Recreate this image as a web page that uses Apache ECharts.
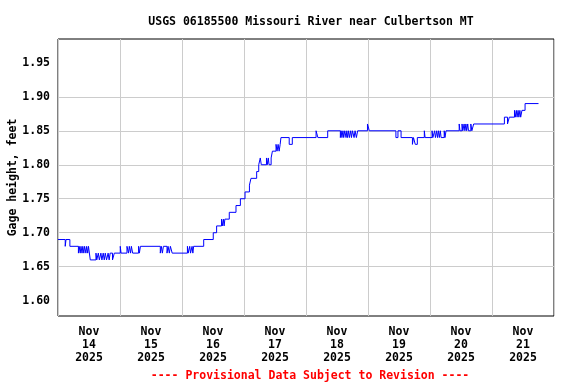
<!DOCTYPE html>
<html>
<head>
<meta charset="utf-8">
<script src="https://cdn.jsdelivr.net/npm/echarts@6/dist/echarts.min.js"></script>
<style>html,body{margin:0;padding:0;background:#fff}#c{width:576px;height:384px}</style>
</head>
<body>
<div id="c"></div>
<script>
// Hours since Nov 14 2025 00:00 at which the gage value changes, and the value from then on
const changeHours = [
  0, 2.8, 3.1, 4.6, 7.9, 8.2, 8.6, 8.9, 9.3, 9.6, 10.0, 10.3, 10.8, 11.1, 11.5, 11.8,
  12.5, 14.7, 15.0, 15.6, 16.0, 16.6, 17.0, 17.5, 17.9, 18.3, 18.8, 19.4, 19.8, 20.2, 21.1, 21.8,
  24.1, 24.4, 26.7, 27.3, 27.6, 28.1, 28.4, 28.9, 31.2, 31.5, 31.9,
  39.6, 40.0, 40.4, 40.8, 42.2, 42.6, 43.1, 43.5, 44.2,
  50.1, 50.4, 51.0, 51.3, 51.9, 52.2, 52.5,
  56.4, 60.1, 61.4, 63.3, 63.6, 64.0, 64.3, 64.6, 66.3, 68.9, 70.6, 72.4, 74.1, 74.7, 76.9,
  77.7, 78.3, 78.7, 80.7, 81.0, 81.4, 81.7, 82.5, 83.0, 84.4, 84.8, 85.2, 85.6, 86.0, 86.3,
  89.5, 90.7, 99.9, 100.6, 104.4,
  109.3, 109.6, 109.9, 110.3, 110.6, 111.0, 111.5, 111.8, 112.1, 112.5, 112.8, 113.3, 113.6, 114.0,
  114.6, 115.0, 115.5, 116.0, 119.8, 120.5,
  130.8, 131.6, 132.8, 137.2, 137.6, 138.3, 139.1, 141.8, 142.1,
  144.8, 145.1, 145.8, 146.1, 146.6, 146.9, 147.3, 147.6, 148.0, 148.3, 149.5, 149.8, 150.2,
  155.3, 155.6, 156.4, 156.7, 157.2, 157.5, 157.9, 158.2, 158.6, 158.9, 159.8, 160.2, 160.9,
  172.8, 174.0, 174.7, 176.7, 177.0, 177.4, 177.7, 178.1, 178.4, 178.8, 179.1, 179.6, 180.8, 186.0
];
const gageFeet = [
  1.69, 1.68, 1.69, 1.68, 1.67, 1.68, 1.67, 1.68, 1.67, 1.68, 1.67, 1.68, 1.67, 1.68, 1.67, 1.68,
  1.66, 1.67, 1.66, 1.67, 1.66, 1.67, 1.66, 1.67, 1.66, 1.67, 1.66, 1.67, 1.66, 1.67, 1.66, 1.67,
  1.68, 1.67, 1.68, 1.67, 1.68, 1.67, 1.68, 1.67, 1.68, 1.67, 1.68,
  1.67, 1.68, 1.67, 1.68, 1.67, 1.68, 1.67, 1.68, 1.67,
  1.68, 1.67, 1.68, 1.67, 1.68, 1.67, 1.68,
  1.69, 1.70, 1.71, 1.72, 1.71, 1.72, 1.71, 1.72, 1.73, 1.74, 1.75, 1.76, 1.77, 1.78, 1.79,
  1.80, 1.81, 1.80, 1.81, 1.80, 1.81, 1.80, 1.81, 1.82, 1.83, 1.82, 1.83, 1.82, 1.83, 1.84,
  1.83, 1.84, 1.85, 1.84, 1.85,
  1.84, 1.85, 1.84, 1.85, 1.84, 1.85, 1.84, 1.85, 1.84, 1.85, 1.84, 1.85, 1.84, 1.85,
  1.84, 1.85, 1.84, 1.85, 1.86, 1.85,
  1.84, 1.85, 1.84, 1.83, 1.84, 1.83, 1.84, 1.85, 1.84,
  1.85, 1.84, 1.85, 1.84, 1.85, 1.84, 1.85, 1.84, 1.85, 1.84, 1.85, 1.84, 1.85,
  1.86, 1.85, 1.86, 1.85, 1.86, 1.85, 1.86, 1.85, 1.86, 1.85, 1.86, 1.85, 1.86,
  1.87, 1.86, 1.87, 1.88, 1.87, 1.88, 1.87, 1.88, 1.87, 1.88, 1.87, 1.88, 1.89, 1.89
];
const yTickLabels = [1.60, 1.65, 1.70, 1.75, 1.80, 1.85, 1.90, 1.95];
const dayLabels = ['Nov\n14\n2025','Nov\n15\n2025','Nov\n16\n2025','Nov\n17\n2025','Nov\n18\n2025','Nov\n19\n2025','Nov\n20\n2025','Nov\n21\n2025'];
const titleText = 'USGS 06185500 Missouri River near Culbertson MT';
const yName = 'Gage height, feet';
const footerText = '---- Provisional Data Subject to Revision ----';

const DAY = 86400000;
const start = Date.UTC(2025, 10, 14);
const end = Date.UTC(2025, 10, 22);
const seriesData = changeHours.map((h, i) => [start + h * 3600000, gageFeet[i]]);
const noonTicks = dayLabels.map((_, i) => start + i * DAY + DAY / 2);

const FONT = 'DejaVu Sans Mono';
const chart = echarts.init(document.getElementById('c'), null, {renderer: 'canvas'});
chart.setOption({
  animation: false,
  backgroundColor: '#ffffff',
  title: [
    {text: titleText, left: 306, top: 11, textAlign: 'center',
     textStyle: {fontFamily: FONT, fontWeight: 'bold', fontSize: 11.5, color: '#000'}},
    {text: footerText, left: 305, top: 365, textAlign: 'center',
     textStyle: {fontFamily: FONT, fontWeight: 'bold', fontSize: 11.5, color: '#ff0000'}}
  ],
  grid: {left: 58, right: 22, top: 39, bottom: 68, show: true, borderColor: '#000', borderWidth: 1,
    backgroundColor: 'transparent', containLabel: false, outerBoundsMode: 'none'},
  xAxis: [
    {type: 'value', min: start, max: end, interval: DAY,
     axisLine: {show: false}, axisTick: {show: false}, axisLabel: {show: false},
     splitLine: {show: true, lineStyle: {color: '#cccccc', width: 1}}},
    {type: 'value', min: start, max: end, position: 'bottom',
     axisLine: {show: false}, axisTick: {show: false}, splitLine: {show: false},
     axisLabel: {show: true, customValues: noonTicks, margin: 10, lineHeight: 13,
       fontFamily: FONT, fontWeight: 'bold', fontSize: 11.5, color: '#000',
       formatter: v => dayLabels[Math.round((v - start - DAY / 2) / DAY)]}}
  ],
  yAxis: {type: 'value', min: 1.5775, max: 1.985, splitNumber: 8,
    name: yName, nameLocation: 'middle', nameGap: 39, nameRotate: 90, nameMoveOverlap: false,
    nameTextStyle: {fontFamily: FONT, fontWeight: 'bold', fontSize: 11.5, color: '#000'},
    axisLine: {show: false}, axisTick: {show: false, customValues: yTickLabels},
    axisLabel: {customValues: yTickLabels, margin: 8, fontFamily: FONT, fontWeight: 'bold', fontSize: 11.5, color: '#000',
      formatter: v => v.toFixed(2)},
    splitLine: {show: true, showMinLine: false, showMaxLine: false, lineStyle: {color: '#cccccc', width: 1}}},
  series: [{
    type: 'line', xAxisIndex: 0, data: seriesData, step: 'end', showSymbol: false,
    lineStyle: {color: '#0000ff', width: 1}, silent: true
  }]
});
</script>
</body>
</html>
